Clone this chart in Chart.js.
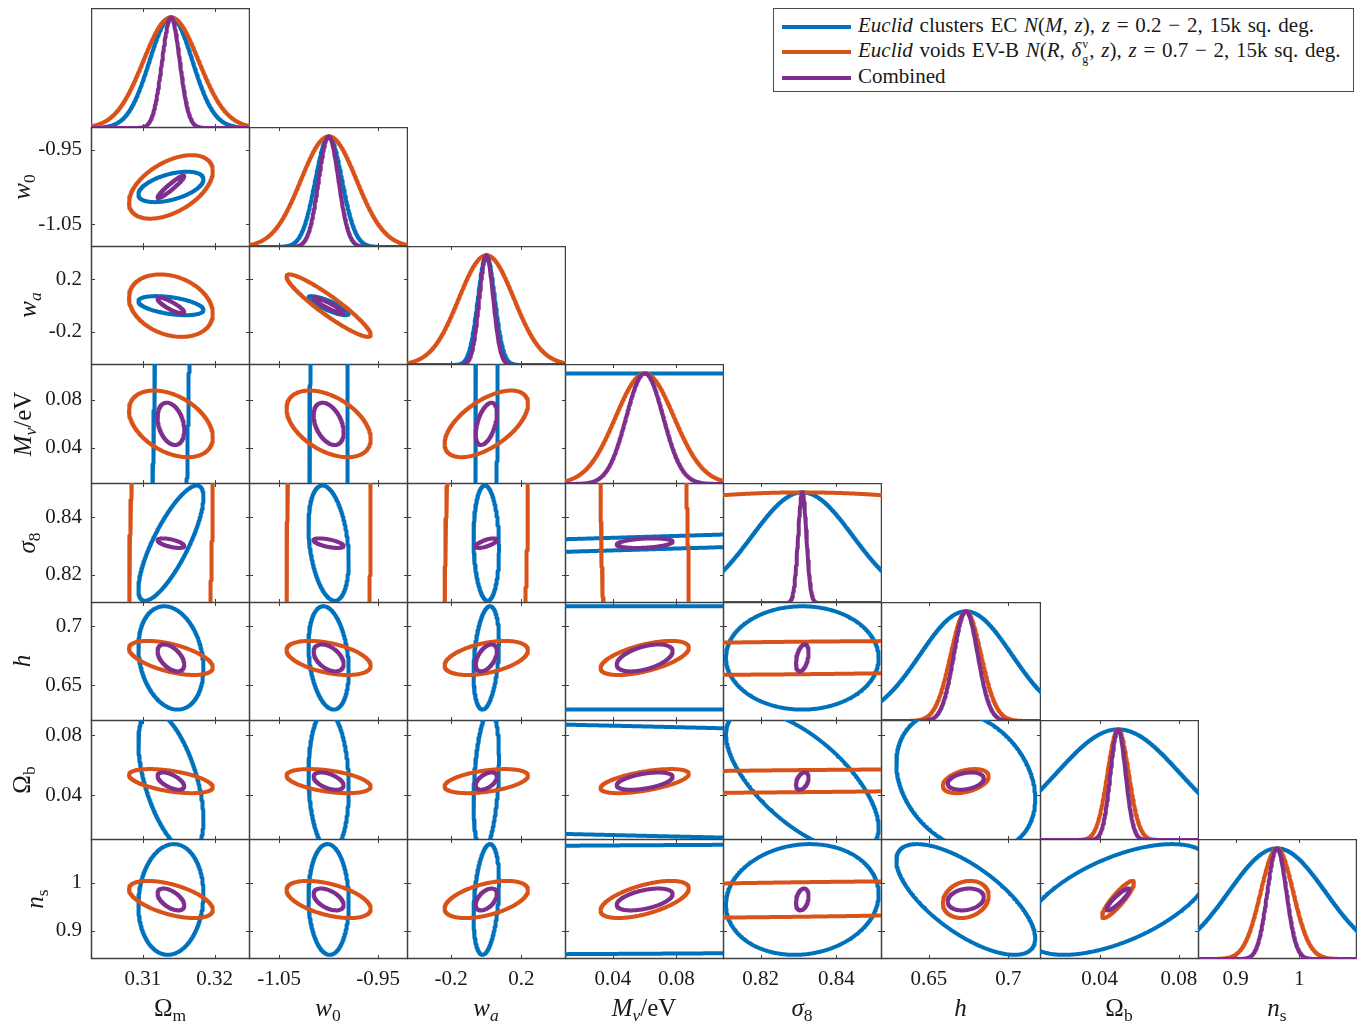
<!DOCTYPE html>
<html>
<head>
<meta charset="utf-8">
<script src="https://cdn.jsdelivr.net/npm/chart.js@4.4.1/dist/chart.umd.min.js"></script>
<style>
  body { margin: 0; background: #fff; }
  #wrap { position: relative; width: 1364px; height: 1021px; font-family: 'Liberation Serif', serif; color: #1a1a1a; overflow: hidden; }
  #wrap canvas { position: absolute; }
  .xt { position: absolute; font-size: 25px; line-height: 1; transform: translate(-50%, -50%); white-space: nowrap; }
  .yt { position: absolute; font-size: 25px; line-height: 1; transform: translate(-50%, -50%) rotate(-90deg); white-space: nowrap; }
  sub { font-size: 70%; vertical-align: -0.3em; line-height: 0; }
  #legend { position: absolute; left: 773px; top: 8px; width: 581px; height: 84px; border: 1px solid #4d4d4d; box-sizing: border-box; background: #fff; font-size: 21px; word-spacing: 1.5px; }
  #legend .row { position: absolute; left: 0; height: 24px; line-height: 24px; white-space: nowrap; }
  #legend .sw { display: inline-block; width: 69px; height: 4px; margin-left: 8px; margin-right: 7px; vertical-align: middle; }
  .ss { position: relative; display: inline-block; width: 8px; height: 10px; }
  .ss .up { position: absolute; left: 1px; top: -9px; font-size: 12px; line-height: 12px; }
  .ss .dn { position: absolute; left: 1px; top: 6px; font-size: 12px; line-height: 12px; }
</style>
</head>
<body>
<div id="wrap"></div>
<script>
// parameters: Omega_m, w0, wa, M_nu, sigma8, h, Omega_b, n_s
const xTitles = ['Ω<sub>m</sub>', '<i>w</i><sub>0</sub>', '<i>w<sub>a</sub></i>', '<i>M<sub>ν</sub></i>/eV',
  '<i>σ</i><sub>8</sub>', '<i>h</i>', 'Ω<sub>b</sub>', '<i>n</i><sub>s</sub>'];
const fiducial = [0.3139, -1.0, 0.0, 0.06, 0.831, 0.6732, 0.0493, 0.9649];
const axisMin = [0.30277, -1.0803, -0.4525, 0.00993, 0.81006, 0.6199, 0.0100, 0.8410];
const axisMax = [0.32492, -0.9199, 0.4550, 0.10986, 0.85206, 0.7205, 0.0901, 1.0908];
const tickValues = [[0.31, 0.32], [-1.05, -0.95], [-0.2, 0.2], [0.04, 0.08],
  [0.82, 0.84], [0.65, 0.7], [0.04, 0.08], [0.9, 1]];
const tickLabels = [['0.31', '0.32'], ['-1.05', '-0.95'], ['-0.2', '0.2'], ['0.04', '0.08'],
  ['0.82', '0.84'], ['0.65', '0.7'], ['0.04', '0.08'], ['0.9', '1']];

// marginal 1-sigma errors
const sigmaClusters = [0.00299, 0.0134, 0.048, 0.80, 0.0133, 0.0288, 0.031, 0.076];
const sigmaVoids = [0.00385, 0.0280, 0.157, 0.0183, 0.0924, 0.0095, 0.0053, 0.0255];
const sigmaCombined = [0.00123, 0.0100, 0.040, 0.0116, 0.0011, 0.0075, 0.0038, 0.0150];

// correlation coefficients, row by row of the triangle:
// (w0,Om) | (wa,Om) (wa,w0) | (Mnu,Om) (Mnu,w0) (Mnu,wa) | (s8,..) | (h,..) | (Ob,..) | (ns,..)
const rhoClusters = [
  0.50,
  -0.45, -0.85,
  0.85, 0.36, 0.52,
  0.80, -0.30, -0.10, 0.994,
  -0.20, -0.25, 0.30, 0.00, 0.00,
  -0.55, -0.10, 0.30, -0.63, -0.66, -0.25,
  0.10, -0.05, 0.30, 0.20, 0.10, -0.70, 0.58
];
const rhoVoids = [
  0.50,
  -0.25, -0.93,
  -0.40, -0.45, 0.60,
  0.20, 0.10, 0.20, -0.20,
  -0.55, -0.45, 0.45, 0.60, 0.30,
  -0.50, -0.45, 0.45, 0.60, 0.40, 0.40,
  -0.55, -0.50, 0.50, 0.60, 0.37, 0.20, 0.90
];
const rhoCombined = [
  0.95,
  -0.85, -0.93,
  -0.30, -0.40, 0.50,
  -0.60, -0.60, 0.70, 0.30,
  -0.50, -0.45, 0.50, 0.50, 0.40,
  -0.60, -0.50, 0.50, 0.50, 0.40, 0.30,
  -0.55, -0.50, 0.50, 0.50, 0.30, 0.20, 0.90
];

const legendLabels = [
  '<i>Euclid</i> clusters EC <i>N</i>(<i>M</i>, <i>z</i>), <i>z</i> = 0.2 − 2, 15k sq. deg.',
  '<i>Euclid</i> voids EV-B <i>N</i>(<i>R</i>, <i>δ</i><span class="ss"><span class="up">v</span><span class="dn">g</span></span>, <i>z</i>), <i>z</i> = 0.7 − 2, 15k sq. deg.',
  'Combined'
];

const SERIES = [
  { color: '#0072BD', sigma: sigmaClusters, rho: rhoClusters },
  { color: '#D95319', sigma: sigmaVoids, rho: rhoVoids },
  { color: '#7E2F8E', sigma: sigmaCombined, rho: rhoCombined },
];

const N_PARAMS = 8;
const CONTOUR_SCALE = Math.sqrt(2.30); // 68% region for two parameters
const PEAK_TOP = 1.085;
const LINE_WIDTH = 4;
const AXIS_COLOR = '#404040';
const TICK_LEN = 4;
const COLS = [91, 249, 407, 565, 723, 881, 1040, 1198, 1356];
const ROWS = [8, 127, 246, 364, 483, 602, 720, 839, 958];
const LEFT_EXTRA = 90;
const BOTTOM_EXTRA = 60;
const tickFont = { family: 'Liberation Serif', size: 21 };

const frameLines = {
  id: 'frameLines',
  beforeDatasetsDraw(chart, args, opts) {
    const { ctx, chartArea: a, scales } = chart;
    ctx.save();
    ctx.strokeStyle = AXIS_COLOR;
    ctx.lineWidth = 1;
    ctx.beginPath();
    opts.xTicks.forEach((v) => {
      const px = Math.round(scales.x.getPixelForValue(v)) + 0.5;
      ctx.moveTo(px, a.bottom);
      ctx.lineTo(px, a.bottom - TICK_LEN);
      ctx.moveTo(px, a.top);
      ctx.lineTo(px, a.top + TICK_LEN);
    });
    opts.yTicks.forEach((v) => {
      const py = Math.round(scales.y.getPixelForValue(v)) + 0.5;
      ctx.moveTo(a.left, py);
      ctx.lineTo(a.left + TICK_LEN, py);
      ctx.moveTo(a.right, py);
      ctx.lineTo(a.right - TICK_LEN, py);
    });
    ctx.stroke();
    ctx.lineWidth = 1.5;
    ctx.strokeRect(a.left + 0.5, a.top + 0.5, a.width - 1, a.height - 1);
    ctx.restore();
  },
};

function gaussianPoints(p, sigma) {
  const pts = [];
  const n = 400;
  for (let i = 0; i <= n; i++) {
    const x = axisMin[p] + (axisMax[p] - axisMin[p]) * i / n;
    const d = (x - fiducial[p]) / sigma;
    pts.push({ x: x, y: Math.exp(-0.5 * d * d) });
  }
  return pts;
}

function ellipsePoints(px, py, sx, sy, rho) {
  const ax = CONTOUR_SCALE * sx;
  const ay = CONTOUR_SCALE * sy;
  const spanX = (axisMax[px] - axisMin[px]) / 2;
  const spanY = (axisMax[py] - axisMin[py]) / 2;
  const n = Math.min(8000, Math.round(400 * Math.max(1, ax / spanX, ay / spanY)));
  const s = Math.sqrt(1 - rho * rho);
  const pts = [];
  for (let i = 0; i <= n + 1; i++) {
    const t = 2 * Math.PI * i / n;
    pts.push({
      x: fiducial[px] + ax * Math.cos(t),
      y: fiducial[py] + ay * (rho * Math.cos(t) + s * Math.sin(t)),
    });
  }
  return pts;
}

function makeDataset(points, color, order) {
  return {
    data: points,
    showLine: true,
    borderColor: color,
    backgroundColor: color,
    borderWidth: LINE_WIDTH,
    borderJoinStyle: 'round',
    borderCapStyle: 'round',
    pointRadius: 0,
    tension: 0,
    fill: false,
    clip: 0,
    order: order,
  };
}

function createPanel(row, col) {
  const wrap = document.getElementById('wrap');
  const showX = row === N_PARAMS - 1;
  const showY = col === 0 && row > 0;
  const extraLeft = showY ? LEFT_EXTRA : 0;
  const extraBottom = showX ? BOTTOM_EXTRA : 0;
  const width = COLS[col + 1] - COLS[col] + 1 + extraLeft;
  const height = ROWS[row + 1] - ROWS[row] + 1 + extraBottom;

  const canvas = document.createElement('canvas');
  canvas.width = width;
  canvas.height = height;
  canvas.style.left = (COLS[col] - extraLeft) + 'px';
  canvas.style.top = ROWS[row] + 'px';
  canvas.style.width = width + 'px';
  canvas.style.height = height + 'px';
  wrap.appendChild(canvas);

  const diagonal = row === col;
  const datasets = SERIES.map((series, k) => {
    const order = SERIES.length - k;
    if (diagonal) {
      return makeDataset(gaussianPoints(col, series.sigma[col]), series.color, order);
    }
    const rho = series.rho[row * (row - 1) / 2 + col];
    const pts = ellipsePoints(col, row, series.sigma[col], series.sigma[row], rho);
    return makeDataset(pts, series.color, order);
  });

  const yMin = diagonal ? 0 : axisMin[row];
  const yMax = diagonal ? PEAK_TOP : axisMax[row];

  new Chart(canvas, {
    type: 'scatter',
    data: { datasets: datasets },
    options: {
      animation: false,
      responsive: false,
      events: [],
      layout: { padding: 0 },
      plugins: {
        legend: { display: false },
        tooltip: { enabled: false },
        frameLines: {
          xTicks: tickValues[col],
          yTicks: diagonal ? [] : tickValues[row],
        },
      },
      scales: {
        x: {
          type: 'linear',
          min: axisMin[col],
          max: axisMax[col],
          display: showX,
          grid: { display: false, drawTicks: false },
          border: { display: false },
          ticks: {
            font: tickFont,
            color: '#1a1a1a',
            padding: 8,
            maxRotation: 0,
            minRotation: 0,
            autoSkip: false,
            callback: (v, i) => tickLabels[col][i],
          },
          afterBuildTicks: (s) => {
            s.ticks = tickValues[col].map((v) => ({ value: v }));
          },
          afterFit: (s) => {
            s.height = extraBottom;
            s.paddingLeft = 0;
            s.paddingRight = 0;
          },
        },
        y: {
          type: 'linear',
          min: yMin,
          max: yMax,
          display: showY,
          grid: { display: false, drawTicks: false },
          border: { display: false },
          ticks: {
            font: tickFont,
            color: '#1a1a1a',
            padding: 9,
            autoSkip: false,
            callback: (v, i) => tickLabels[row][i],
          },
          afterBuildTicks: (s) => {
            if (!diagonal) s.ticks = tickValues[row].map((v) => ({ value: v }));
          },
          afterFit: (s) => {
            s.width = extraLeft;
            s.paddingTop = 0;
            s.paddingBottom = 0;
          },
        },
      },
    },
    plugins: [frameLines],
  });
}

function addTitles() {
  const wrap = document.getElementById('wrap');
  const yTitleX = [0, 21, 27, 22, 26, 21, 21, 34];
  for (let p = 0; p < N_PARAMS; p++) {
    const xt = document.createElement('div');
    xt.className = 'xt';
    xt.innerHTML = xTitles[p];
    xt.style.left = ((COLS[p] + COLS[p + 1]) / 2) + 'px';
    xt.style.top = '1007px';
    wrap.appendChild(xt);
    if (p > 0) {
      const yt = document.createElement('div');
      yt.className = 'yt';
      yt.innerHTML = xTitles[p];
      yt.style.left = yTitleX[p] + 'px';
      yt.style.top = ((ROWS[p] + ROWS[p + 1]) / 2) + 'px';
      wrap.appendChild(yt);
    }
  }
}

function addLegend() {
  const wrap = document.getElementById('wrap');
  const box = document.createElement('div');
  box.id = 'legend';
  const rowTops = [4, 29, 55];
  legendLabels.forEach((label, k) => {
    const row = document.createElement('div');
    row.className = 'row';
    row.style.top = rowTops[k] + 'px';
    const sw = document.createElement('span');
    sw.className = 'sw';
    sw.style.background = SERIES[k].color;
    const text = document.createElement('span');
    text.innerHTML = label;
    row.appendChild(sw);
    row.appendChild(text);
    box.appendChild(row);
  });
  wrap.appendChild(box);
}

for (let row = 0; row < N_PARAMS; row++) {
  for (let col = 0; col <= row; col++) {
    createPanel(row, col);
  }
}
addTitles();
addLegend();
</script>
</body>
</html>
